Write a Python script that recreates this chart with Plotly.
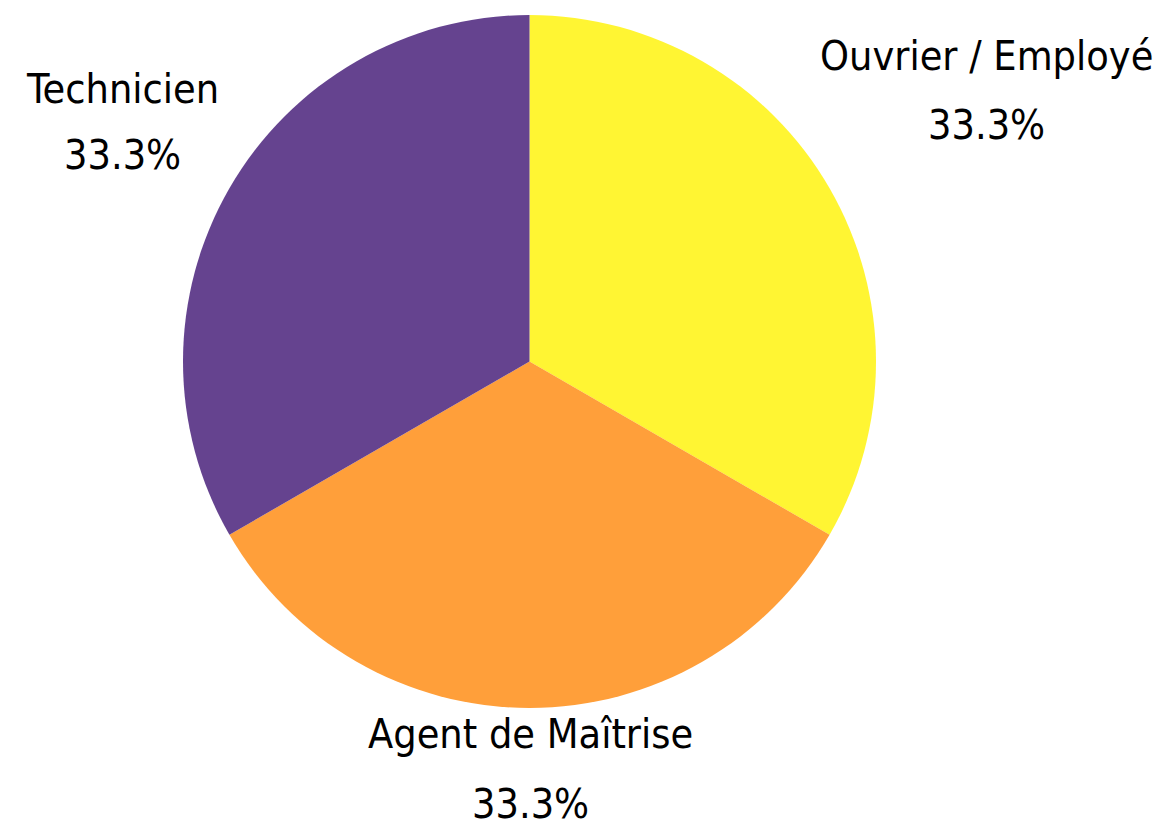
import plotly.graph_objects as go

categories = ["Ouvrier / Employé", "Agent de Maîtrise", "Technicien"]
values = [1, 1, 1]
colors = ["#FFF533", "#FF9F3A", "#65438F"]

# label placement (layout only): paper x, paper y of the name line and of the percent line
label_pos = {
    "Ouvrier / Employé": (1.160, 0.941, 0.841),
    "Agent de Maîtrise": (0.501, -0.0375, -0.1385),
    "Technicien": (-0.088, 0.893, 0.798),
}

FONT = "Liberation Sans Narrow, DejaVu Sans Condensed, sans-serif"

fig = go.Figure(go.Pie(
    labels=categories,
    values=values,
    sort=False,
    direction="clockwise",
    rotation=0,
    automargin=False,
    marker=dict(colors=colors, line=dict(width=0)),
    textinfo="none",
    hoverinfo="label+percent",
    showlegend=False,
))

total = sum(values)
for cat, val in zip(categories, values):
    x, y1, y2 = label_pos[cat]
    pct = f"{val / total * 100:.1f}%"
    for txt, y in ((cat, y1), (pct, y2)):
        fig.add_annotation(
            x=x, y=y, xref="paper", yref="paper",
            text=txt, showarrow=False,
            xanchor="center", yanchor="middle",
            font=dict(family=FONT, size=41, color="black"),
        )

fig.update_layout(
    width=1165, height=832,
    margin=dict(l=175, r=297, t=7, b=132, autoexpand=False),
    paper_bgcolor="white",
    plot_bgcolor="white",
)

fig.write_html("out.html")
